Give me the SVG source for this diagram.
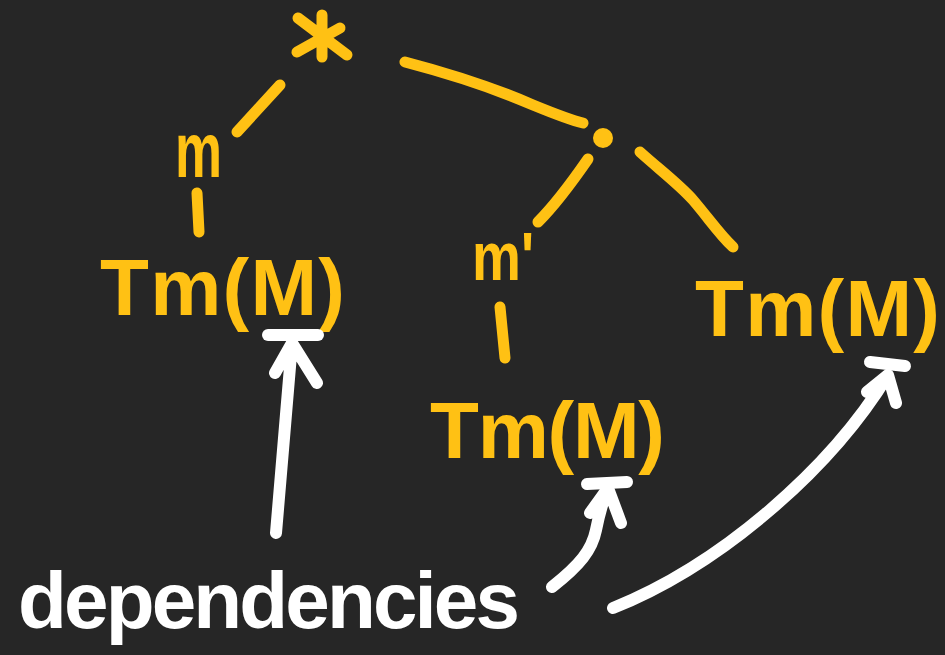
<svg xmlns="http://www.w3.org/2000/svg" width="945" height="655" viewBox="0 0 945 655">
<style>
.y{fill:none;stroke:#FFC114;stroke-width:11;stroke-linecap:round;stroke-linejoin:round}
.w{fill:none;stroke:#FFFFFF;stroke-width:12;stroke-linecap:round;stroke-linejoin:round}
.ty{fill:#FFC114;font-family:"Liberation Sans","DejaVu Sans",sans-serif;font-weight:bold}
.tw{fill:#FFFFFF;font-family:"Liberation Sans","DejaVu Sans",sans-serif;font-weight:bold}
</style>
<rect width="945" height="655" fill="#262626"/>
<g id="root-star">
<path class="y" d="M322 15 L322 57 M298 18 L347 55 M340 28 L297 52"/>
</g>
<g id="dot-node">
<circle cx="603" cy="138" r="10" fill="#FFC114"/>
</g>
<g id="label-m">
<text class="ty" x="175" y="177" font-size="78" textLength="47" lengthAdjust="spacingAndGlyphs">m</text>
</g>
<g id="label-m-prime">
<text class="ty" x="472" y="280" font-size="68" textLength="62" lengthAdjust="spacingAndGlyphs">m'</text>
</g>
<g id="tm-left">
<text class="ty" x="100" y="315" font-size="80" textLength="245" lengthAdjust="spacing">Tm(M)</text>
</g>
<g id="tm-middle">
<text class="ty" x="430" y="458" font-size="80" textLength="235" lengthAdjust="spacing">Tm(M)</text>
</g>
<g id="tm-right">
<text class="ty" x="695" y="336" font-size="80" textLength="245" lengthAdjust="spacing">Tm(M)</text>
</g>
<g id="dependencies">
<text class="tw" x="18" y="628" font-size="80" textLength="502" lengthAdjust="spacing">dependencies</text>
</g>
<g id="connectors">
<path class="y" d="M237 132 L280 85"/>
<path class="y" d="M197 193 L199 232"/>
<path class="y" d="M405 62 C447 73 487 85 533 105 C555 114 570 120 583 123"/>
<path class="y" d="M588 159 C570 185 555 205 538 222"/>
<path class="y" d="M500 307 L505 358"/>
<path class="y" d="M640 152 C660 170 680 185 693 200 C710 220 720 235 733 247"/>
<path class="w" d="M268 335 L318 335"/>
<path class="w" d="M276 533 L292 343 M275 373 L292 343 L317 383"/>
<path class="w" d="M587 484 L627 482"/>
<path class="w" d="M552 587 C580 565 592 550 596 530 C600 510 604 498 608 488 M590 513 L608 488 L621 523"/>
<path class="w" d="M870 362 L905 366"/>
<path class="w" d="M613 608 C720 565 830 470 888 375 M867 392 L888 375 L896 403"/>
</g>
</svg>
